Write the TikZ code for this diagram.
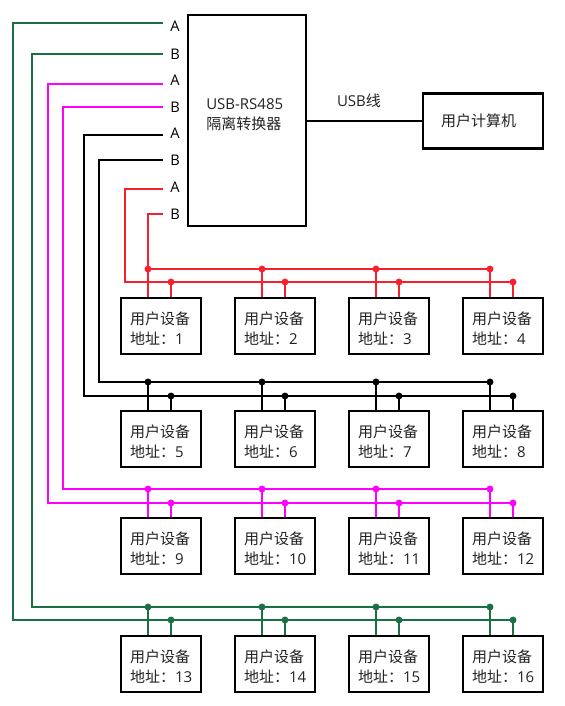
\documentclass[tikz,border=0pt]{standalone}
\usepackage{fontspec}
\setmainfont{Open Sans}
\newfontfamily\zh{Noto Sans CJK SC}
\definecolor{cgreen}{HTML}{1A7040}
\definecolor{cmag}{HTML}{FF00FF}
\definecolor{cred}{HTML}{F8202C}
\definecolor{ctext}{HTML}{222222}
\tikzset{
  box/.style={draw=black,line width=1.8pt,fill=none,inner sep=0pt,text=ctext,font=\fontsize{11.25}{15}\selectfont},
  device/.style={box,minimum width=60pt,minimum height=42pt,text width=46.5pt,align=left},
  port/.style={text=black,font=\fontsize{11}{12}\selectfont,inner sep=0pt},
  wire/.style={line width=1.7pt,line join=miter},
  dot/.style={circle,fill,inner sep=0pt,minimum size=5.2pt},
}
\newcommand{\devtext}[1]{{\zh 用户设备}\\{\zh 地址：}#1}
\begin{document}
\begin{tikzpicture}[x=0.75pt,y=-0.75pt]
\useasboundingbox (0,0) rectangle (564,706);
\node[box,minimum width=88.5pt,minimum height=158pt] (conv) at (247,120.5) {};
\node[text=ctext,font=\fontsize{11.25}{15}\selectfont,align=left,inner sep=0pt,anchor=west] (convt) at (206,115) {USB-RS485\\{\zh 隔离转换器}};
\node[box,minimum width=90pt,minimum height=41pt,text width=63pt,align=left] (pc) at (483,121) {\zh 用户计算机};
\draw[line width=1.7pt,black] (conv.east |- pc.west) -- (pc.west);
\node[text=ctext,font=\fontsize{11.25}{12}\selectfont,inner sep=0pt] (usb) at (359,101) {USB{\zh 线}};
% ports
\foreach \n/\l/\y in {p1/A/26,p2/B/54,p3/A/80,p4/B/107,p5/A/133,p6/B/160,p7/A/187,p8/B/214}
  \node[port] (\n) at (175,\y) {\l};
% wire ends beside the ports
\foreach \n/\y in {p1/23,p2/54,p3/84,p4/107,p5/135,p6/160,p7/189,p8/214}
  \coordinate (e\n) at (163,\y);
% devices
\foreach \i/\x/\y in {1/161/326,2/275/326,3/389/326,4/503/326,
                      5/161/439,6/275/439,7/389/439,8/503/439,
                      9/161/546,10/275/546,11/389/546,12/503/546,
                      13/161/664,14/275/664,15/389/664,16/503/664}
  \node[device] (d\i) at (\x,\y) {\rule{0pt}{13.5pt}\devtext{\i}};
% wires: colour / A port / B port / A x / B x / A bus y / B bus y / first device
\foreach \c/\pa/\pb/\xa/\xb/\ya/\yb/\dd in {
   cred/p7/p8/125/148/282/269/1,
   black/p5/p6/84/99/396/382/5,
   cmag/p3/p4/48/63/503/489/9,
   cgreen/p1/p2/13/32/620/607/13}{
  \begin{scope}[color=\c]
  \pgfmathtruncatemacro{\dl}{\dd+3}
  \draw[wire,\c] (e\pa) -| (\xa,\ya) -- (514,\ya);
  \draw[wire,\c] (e\pb) -| (\xb,\yb) -- (490,\yb);
  \foreach \k in {\dd,...,\dl}{
    \coordinate (tb) at ([xshift=-9.75pt]d\k.north);
    \coordinate (ta) at ([xshift=7.5pt]d\k.north);
    \path (tb) -- (tb |- 0,\yb) coordinate (jb);
    \path (ta) -- (ta |- 0,\ya) coordinate (ja);
    \node[dot,fill=\c] (nb\k) at (jb) {};
    \node[dot,fill=\c] (na\k) at (ja) {};
    \draw[wire,\c] (nb\k.center) -- (tb);
    \draw[wire,\c] (na\k.center) -- (ta);
  }
  \end{scope}
}
\end{tikzpicture}
\end{document}
